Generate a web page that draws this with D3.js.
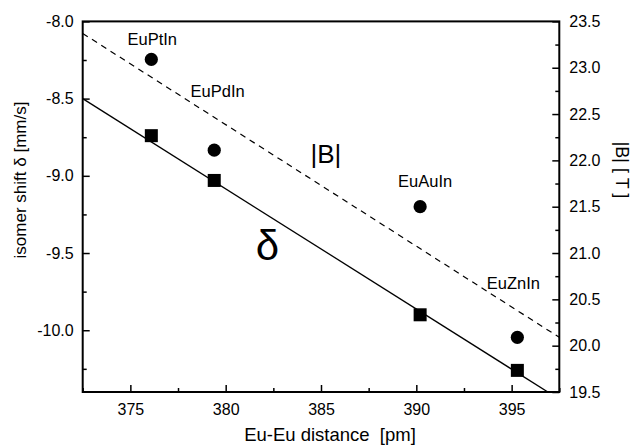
<!DOCTYPE html>
<html>
<head>
<meta charset="utf-8">
<script src="https://cdn.jsdelivr.net/npm/d3@7"></script>
<style>
  html, body { margin: 0; padding: 0; background: #fff; }
  text { font-family: "Liberation Sans", Arial, sans-serif; fill: #000; }
</style>
</head>
<body>
<svg id="chart" width="638" height="446"></svg>
<script>
// ---- data ----
const compounds = ["EuPtIn", "EuPdIn", "EuAuIn", "EuZnIn"];
const distances = [376.1, 379.4, 390.2, 395.3];          // Eu-Eu distance [pm]
const isomerShift = [-8.74, -9.03, -9.90, -10.26];       // δ [mm/s]
const hyperfineField = [23.09, 22.11, 21.50, 20.09];     // |B| [T]
const deltaFitX = [372.5, 396.9];
const deltaFitY = [-8.5, -10.4];
const bFitX = [372.5, 397.5];
const bFitY = [23.37, 20.09];
const xTicks = [375, 380, 385, 390, 395];
const yLeftTicks = [-8.0, -8.5, -9.0, -9.5, -10.0];
const yRightTicks = [19.5, 20.0, 20.5, 21.0, 21.5, 22.0, 22.5, 23.0, 23.5];
// annotation anchors in data coordinates (x: distance, y: isomer shift)
const labelNames = ["EuPtIn", "EuPdIn", "EuAuIn", "EuZnIn", "|B|", "δ"];
const labelX = [376.15, 379.58, 390.46, 395.09, 385.26, 382.19];
const labelY = [-8.15, -8.49, -9.07, -9.733, -8.917, -9.545];

// ---- layout ----
const L = 82.7, R = 559.3, T = 21.4, B = 392;
const svg = d3.select("#chart");

const x = d3.scaleLinear().domain([372.5, 397.5]).range([L, R]);
const yL = d3.scaleLinear().domain([-10.4, -8.0]).range([B, T]);
const yR = d3.scaleLinear().domain([19.5, 23.5]).range([B, T]);

svg.append("defs").append("clipPath").attr("id", "clip")
  .append("rect").attr("x", L).attr("y", T).attr("width", R - L).attr("height", B - T);

const g = svg.append("g").attr("clip-path", "url(#clip)");

// fit lines
const lineL = d3.line().x(d => x(d[0])).y(d => yL(d[1]));
const lineR = d3.line().x(d => x(d[0])).y(d => yR(d[1]));
g.append("path").datum(d3.zip(deltaFitX, deltaFitY)).attr("d", lineL)
  .attr("fill", "none").attr("stroke", "#000").attr("stroke-width", 1.3);
g.append("path").datum(d3.zip(bFitX, bFitY)).attr("d", lineR)
  .attr("fill", "none").attr("stroke", "#000").attr("stroke-width", 1.2)
  .attr("stroke-dasharray", "6,5");

// markers
const sq = 13;
g.selectAll("rect.sq").data(d3.zip(distances, isomerShift)).join("rect")
  .attr("class", "sq")
  .attr("x", d => x(d[0]) - sq / 2).attr("y", d => yL(d[1]) - sq / 2)
  .attr("width", sq).attr("height", sq).attr("fill", "#000");
g.selectAll("circle.ci").data(d3.zip(distances, hyperfineField)).join("circle")
  .attr("class", "ci")
  .attr("cx", d => x(d[0])).attr("cy", d => yR(d[1])).attr("r", 6.6).attr("fill", "#000");

// axes
const major = 7, minor = 4;
const fmt1 = v => v.toFixed(1);   // keeps the plain hyphen-minus of the original
function minorTicks(domain, step) {
  const out = [];
  for (let v = Math.ceil(domain[0] / step) * step; v <= domain[1] + 1e-9; v += step) out.push(+v.toFixed(4));
  return out;
}
const isHalf = v => Math.abs(v * 2 - Math.round(v * 2)) < 1e-6;
// bottom
svg.append("g").attr("transform", `translate(0,${B})`)
  .call(d3.axisBottom(x).tickValues(xTicks).tickSize(-major).tickPadding(12).tickFormat(d3.format("d")));
svg.append("g").attr("transform", `translate(0,${B})`)
  .call(d3.axisBottom(x).tickValues(minorTicks([372.5, 397.5], 2.5).filter(v => v % 5 !== 0)).tickSize(-minor).tickFormat(""));
// left
svg.append("g").attr("transform", `translate(${L},0)`)
  .call(d3.axisLeft(yL).tickValues(yLeftTicks).tickSize(-major).tickPadding(9).tickFormat(fmt1));
svg.append("g").attr("transform", `translate(${L},0)`)
  .call(d3.axisLeft(yL).tickValues(minorTicks([-10.4, -8.0], 0.25).filter(v => !isHalf(v))).tickSize(-minor).tickFormat(""));
// right
svg.append("g").attr("transform", `translate(${R},0)`)
  .call(d3.axisRight(yR).tickValues(yRightTicks).tickSize(-major).tickPadding(10).tickFormat(fmt1));
svg.append("g").attr("transform", `translate(${R},0)`)
  .call(d3.axisRight(yR).tickValues(minorTicks([19.5, 23.5], 0.25).filter(v => !isHalf(v))).tickSize(-minor).tickFormat(""));

svg.selectAll(".domain").remove();
svg.selectAll(".tick line").attr("stroke", "#000").attr("stroke-width", 1.5);
svg.selectAll(".tick text").attr("font-size", 16).attr("font-family", "Liberation Sans, Arial, sans-serif").attr("fill", "#000");

// frame
svg.append("rect").attr("x", L).attr("y", T).attr("width", R - L).attr("height", B - T)
  .attr("fill", "none").attr("stroke", "#000").attr("stroke-width", 2);

// axis titles
svg.append("text").attr("transform", `translate(26,180) rotate(-90)`)
  .attr("text-anchor", "middle").attr("font-size", 17).text("isomer shift δ [mm/s]");
svg.append("text").attr("transform", `translate(616,170) rotate(90)`)
  .attr("text-anchor", "middle").attr("font-size", 18).attr("xml:space", "preserve").text("|B| [ T ]");
svg.append("text").attr("x", 330).attr("y", 441)
  .attr("text-anchor", "middle").attr("font-size", 18.5).attr("xml:space", "preserve").text("Eu-Eu distance  [pm]");

// annotations
const labelSizes = { "|B|": 26, "δ": 42 };
svg.selectAll("text.lab").data(d3.range(labelNames.length)).join("text")
  .attr("class", "lab")
  .attr("x", i => x(labelX[i])).attr("y", i => yL(labelY[i]))
  .attr("text-anchor", "middle")
  .attr("font-size", i => labelSizes[labelNames[i]] || 16.5)
  .attr("font-family", i => labelNames[i] === "δ" ? "Liberation Serif, Times New Roman, serif" : "Liberation Sans, Arial, sans-serif")
  .text(i => labelNames[i]);
</script>
</body>
</html>
